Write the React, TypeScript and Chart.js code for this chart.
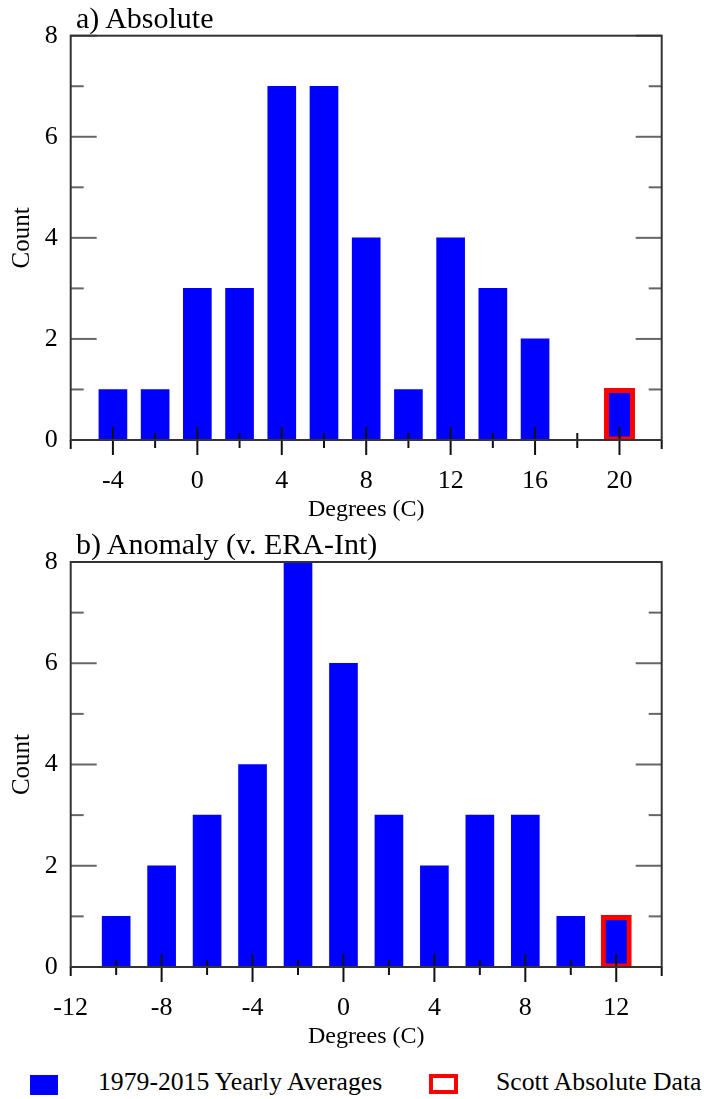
import React, { useEffect, useRef } from 'react';
import { Chart, registerables } from 'chart.js';

Chart.register(...registerables);

const SERIF = "'Liberation Serif', 'Times New Roman', Times, serif";

// ---- Panel a) Absolute ----
const ABS_BINS = [-4, -2, 0, 2, 4, 6, 8, 10, 12, 14, 16, 18, 20];
const ABS_COUNTS = [1, 1, 3, 3, 7, 7, 4, 1, 4, 3, 2, 0, 1];
const ABS_SCOTT_BINS = [20];
const ABS_SCOTT_COUNTS = [1];
const ABS_X_TICKS = [-4, 0, 4, 8, 12, 16, 20];
const ABS_X_MIN = -6;
const ABS_X_MAX = 22;

// ---- Panel b) Anomaly ----
const ANOM_BINS = [-10, -8, -6, -4, -2, 0, 2, 4, 6, 8, 10, 12];
const ANOM_COUNTS = [1, 2, 3, 4, 8, 6, 3, 2, 3, 3, 1, 1];
const ANOM_SCOTT_BINS = [12];
const ANOM_SCOTT_COUNTS = [1];
const ANOM_X_TICKS = [-12, -8, -4, 0, 4, 8, 12];
const ANOM_X_MIN = -12;
const ANOM_X_MAX = 14;

const Y_TICKS = [0, 2, 4, 6, 8];
const Y_MIN = 0;
const Y_MAX = 8;

const TITLES = ['a) Absolute', 'b) Anomaly (v. ERA-Int)'];
const X_TITLE = 'Degrees (C)';
const Y_TITLE = 'Count';
const LEGEND_LABELS = ['1979-2015 Yearly Averages', 'Scott Absolute Data'];

const BLUE = '#0000ff';
const RED = '#ff0000';

const framePlugin = {
  id: 'frame',
  afterDraw(chart: any, _args: any, opts: any) {
    const { ctx, chartArea: a, scales } = chart;
    const x = scales.x;
    const y = scales.y;
    const line = (x1: number, y1: number, x2: number, y2: number) => {
      ctx.beginPath();
      ctx.moveTo(x1, y1);
      ctx.lineTo(x2, y2);
      ctx.stroke();
    };
    ctx.save();
    // y ticks (inward, both sides)
    ctx.strokeStyle = '#666';
    ctx.lineWidth = 2;
    for (let v = y.min; v <= y.max + 1e-9; v += 1) {
      const py = y.getPixelForValue(v);
      const len = Math.round(v) % 2 === 0 ? 26 : 13;
      line(a.left, py, a.left + len, py);
      line(a.right, py, a.right - len, py);
    }
    // x ticks
    ctx.strokeStyle = '#111';
    const majors: number[] = opts.majors || [];
    for (let v = x.min; v <= x.max + 1e-9; v += 2) {
      const px = x.getPixelForValue(v);
      if (v === x.min || v === x.max) {
        line(px, a.bottom, px, a.bottom + 9);
      } else if (majors.includes(v)) {
        line(px, a.bottom - 13, px, a.bottom + 15);
      } else {
        line(px, a.bottom - 7, px, a.bottom + 8);
      }
    }
    // frame
    ctx.strokeStyle = '#333';
    ctx.lineWidth = 2;
    ctx.strokeRect(a.left, a.top, a.right - a.left, a.bottom - a.top);
    ctx.restore();
  },
};

type Panel = {
  bins: number[];
  counts: number[];
  scottBins: number[];
  scottCounts: number[];
  xTicks: number[];
  xMin: number;
  xMax: number;
  padTop: number;
};

function makeConfig(p: Panel): any {
  return {
    type: 'bar',
    data: {
      datasets: [
        {
          label: LEGEND_LABELS[1],
          data: p.scottBins.map((x, i) => ({ x, y: p.scottCounts[i] })),
          backgroundColor: 'rgba(0,0,0,0)',
          borderColor: RED,
          borderWidth: 2,
          borderSkipped: false,
          inflateAmount: 1.5,
          barThickness: 28,
          grouped: false,
          order: 0,
        },
        {
          label: LEGEND_LABELS[0],
          data: p.bins.map((x, i) => ({ x, y: p.counts[i] })),
          backgroundColor: BLUE,
          borderWidth: 0,
          barThickness: 28,
          grouped: false,
          order: 1,
        },
      ],
    },
    options: {
      responsive: false,
      animation: false,
      devicePixelRatio: 1,
      layout: { padding: { top: p.padTop, right: 42.3, left: 0, bottom: 0 } },
      plugins: {
        legend: { display: false },
        tooltip: { enabled: false },
        title: { display: false },
        frame: { majors: p.xTicks },
      },
      scales: {
        x: {
          type: 'linear',
          min: p.xMin,
          max: p.xMax,
          offset: false,
          grid: { display: false, drawTicks: false },
          border: { display: false },
          afterBuildTicks: (s: any) => {
            s.ticks = p.xTicks.map((v) => ({ value: v }));
          },
          afterFit: (s: any) => {
            s.height = 90;
          },
          ticks: {
            font: { family: SERIF, size: 26 },
            color: '#000',
            padding: 26,
            maxRotation: 0,
            autoSkip: false,
            callback: (v: any) => String(v),
          },
          title: {
            display: true,
            text: X_TITLE,
            font: { family: SERIF, size: 24 },
            color: '#000',
            padding: { top: 6, bottom: 6 },
          },
        },
        y: {
          min: Y_MIN,
          max: Y_MAX,
          grid: { display: false, drawTicks: false },
          border: { display: false },
          afterBuildTicks: (s: any) => {
            s.ticks = Y_TICKS.map((v) => ({ value: v }));
          },
          afterFit: (s: any) => {
            s.width = 70.7;
          },
          ticks: {
            font: { family: SERIF, size: 26 },
            color: '#000',
            padding: 13,
            callback: (v: any) => String(v),
          },
          title: {
            display: true,
            text: Y_TITLE,
            font: { family: SERIF, size: 25 },
            color: '#000',
            padding: { top: 7, bottom: 0 },
          },
        },
      },
    },
    plugins: [framePlugin],
  };
}

function Histogram({ panel, top, height }: { panel: Panel; top: number; height: number }) {
  const ref = useRef<HTMLCanvasElement | null>(null);
  useEffect(() => {
    if (!ref.current) return;
    const chart = new Chart(ref.current, makeConfig(panel));
    return () => chart.destroy();
  }, []);
  return (
    <canvas
      ref={ref}
      width={704}
      height={height}
      style={{ position: 'absolute', left: 0, top, width: 704, height, display: 'block' }}
    />
  );
}

const textStyle: any = {
  position: 'absolute',
  fontFamily: SERIF,
  color: '#000',
  whiteSpace: 'nowrap',
};

export default function App() {
  const panelA: Panel = {
    bins: ABS_BINS,
    counts: ABS_COUNTS,
    scottBins: ABS_SCOTT_BINS,
    scottCounts: ABS_SCOTT_COUNTS,
    xTicks: ABS_X_TICKS,
    xMin: ABS_X_MIN,
    xMax: ABS_X_MAX,
    padTop: 35.7,
  };
  const panelB: Panel = {
    bins: ANOM_BINS,
    counts: ANOM_COUNTS,
    scottBins: ANOM_SCOTT_BINS,
    scottCounts: ANOM_SCOTT_COUNTS,
    xTicks: ANOM_X_TICKS,
    xMin: ANOM_X_MIN,
    xMax: ANOM_X_MAX,
    padTop: 32,
  };
  return (
    <div
      style={{
        position: 'absolute',
        left: 0,
        top: 0,
        width: 704,
        height: 1099,
        background: '#fff',
        overflow: 'hidden',
      }}
    >
      <Histogram panel={panelA} top={0} height={530} />
      <Histogram panel={panelB} top={530} height={527} />
      <div style={{ ...textStyle, left: 76, top: 1, fontSize: 30, lineHeight: '34px' }}>{TITLES[0]}</div>
      <div style={{ ...textStyle, left: 76, top: 527, fontSize: 30, lineHeight: '34px' }}>{TITLES[1]}</div>
      <div style={{ position: 'absolute', left: 30, top: 1075, width: 28, height: 20, background: BLUE }} />
      <div style={{ ...textStyle, left: 98, top: 1067, fontSize: 25.7, lineHeight: '30px' }}>{LEGEND_LABELS[0]}</div>
      <div
        style={{
          position: 'absolute',
          left: 429,
          top: 1074,
          width: 29,
          height: 20,
          border: `4px solid ${RED}`,
          boxSizing: 'border-box',
        }}
      />
      <div style={{ ...textStyle, left: 496, top: 1067, fontSize: 25.7, lineHeight: '30px' }}>{LEGEND_LABELS[1]}</div>
    </div>
  );
}
